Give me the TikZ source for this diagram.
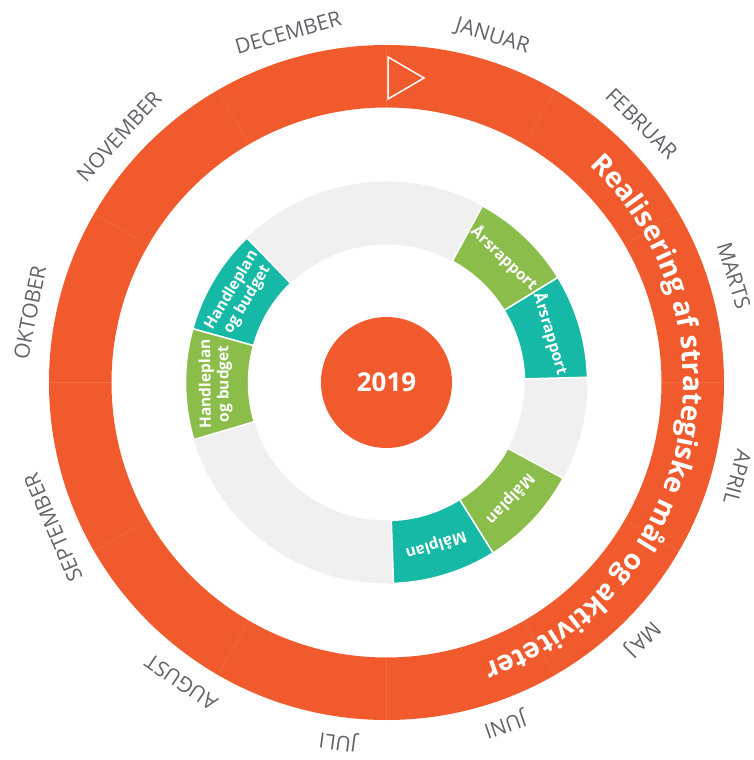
\documentclass[tikz,border=0pt]{standalone}
\usepackage{fontspec}
\setmainfont{Open Sans}
\usetikzlibrary{decorations.text}
\definecolor{hjulorange}{HTML}{F15A2C}
\definecolor{hjulgroen}{HTML}{8BBD4B}
\definecolor{hjulteal}{HTML}{16B9A5}
\definecolor{hjulgraa}{HTML}{F0F0F0}
\definecolor{tekstgraa}{HTML}{60646A}
\tikzset{
  maaned/.style={text=tekstgraa, font=\fontsize{21}{21}\selectfont, anchor=base, inner sep=0pt},
  felt/.style={draw=white, line width=1.5pt},
  felttekst/.style={text=white, font=\bfseries\fontsize{15.5}{18}\selectfont, align=center, inner sep=0pt}
}
\newcommand{\feltbue}[3]{%
  \filldraw[felt, fill=#1] (#2:138) arc[start angle=#2, end angle=#3, radius=138]
    -- (#3:201) arc[start angle=#3, end angle=#2, radius=201] -- cycle;}
\begin{document}
\begin{tikzpicture}[x=1pt,y=1pt]
\useasboundingbox (-386.5,-377.5) rectangle (366.5,382.5);
% ydre ring
\fill[hjulorange, even odd rule] (0,0) circle[radius=337.5] (0,0) circle[radius=275];
\foreach \a in {0,30,...,330} \draw[hjulorange!88!white, line width=0.4pt] (\a:275) -- (\a:337.5);
\draw[white, line width=1.5pt, line join=miter] (1.5,325.5) -- (1.5,283.5) -- (37.5,304.5) -- cycle;
\path[decorate, decoration={text along path, text align=center,
  text={|\color{white}\bfseries\fontsize{28}{28}\selectfont|Realisering af strategiske mål og aktiviteter}}]
  (78:297) arc[start angle=78, end angle=-102, radius=297];
% maaneder
\foreach \m/\a [count=\i] in {JANUAR/73, FEBRUAR/45.4, MARTS/17.1, APRIL/-15.1, MAJ/-45.1,
  JUNI/-70.9, JULI/-97.7, AUGUST/-124.4, SEPTEMBER/-156.5, OKTOBER/168.9, NOVEMBER/137.4, DECEMBER/105.7}
  \node[maaned, rotate=\a-90] (m\i) at (\a:356) {\m};
% indre ring
\fill[hjulgraa, even odd rule] (0,0) circle[radius=201] (0,0) circle[radius=138];
\feltbue{hjulgroen}{61.5}{31.5}
\feltbue{hjulteal}{31.5}{1.5}
\feltbue{hjulgroen}{-28.5}{-58}
\feltbue{hjulteal}{-58}{-88}
\feltbue{hjulteal}{134}{164.5}
\feltbue{hjulgroen}{164.5}{196.5}
\node[felttekst, rotate=-43.5] (aars1) at (46.5:171) {Årsrapport};
\node[felttekst, rotate=-73.5] (aars2) at (16.5:171) {Årsrapport};
\node[felttekst, rotate=-133.25] (maal1) at (-43.25:170) {Målplan};
\node[felttekst, rotate=-163] (maal2) at (-73:170) {Målplan};
\node[felttekst, rotate=59.25] (handl1) at (149.25:171) {Handleplan\\og budget};
\node[felttekst, rotate=90.5] (handl2) at (180.5:171) {Handleplan\\og budget};
% midte
\node[circle, fill=hjulorange, minimum size=131pt, inner sep=0pt, text=white,
  font=\bfseries\fontsize{26}{26}\selectfont] (aar) at (0,0) {2019};
\end{tikzpicture}
\end{document}
